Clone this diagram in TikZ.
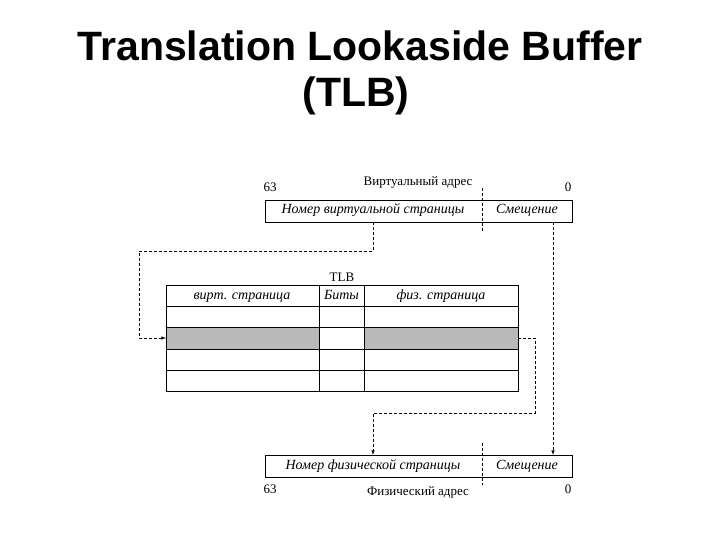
\documentclass[tikz,border=0pt]{standalone}
\usepackage{fontspec}
\setmainfont{Liberation Serif}
\newfontfamily\titlefont{Liberation Sans}
\begin{document}
\begin{tikzpicture}[x=1pt,y=-1pt,
  box/.style={draw,line width=0.8pt},
  dl/.style={dashed,line width=0.6pt,dash pattern=on 3pt off 2pt},
  arr/.style={dl,-latex},
  lab/.style={font=\fontsize{13}{13}\selectfont,text height=8pt,text depth=2pt,inner sep=0pt},
  itl/.style={font=\fontsize{14}{14}\selectfont\itshape,text height=9pt,text depth=3pt,inner sep=0pt}]
\useasboundingbox (0,0) rectangle (720,540);
\node[font=\titlefont\bfseries\fontsize{41}{41}\selectfont] (t1) at (360,46) {Translation Lookaside Buffer};
\node[font=\titlefont\bfseries\fontsize{41}{41}\selectfont] (t2) at (356,96) {(TLB)};
% virtual address
\draw[box] (265,200) rectangle (572,222);
\draw[dl] (482,188) -- (482,232);
\node[itl] (vpn) at (373,211) {Номер виртуальной страницы};
\node[itl] (voff) at (527,211) {Смещение};
\node[lab] (v63) at (270,189) {63};
\node[lab] (v0) at (568,189) {0};
\node[lab] (vlab) at (418,183) {Виртуальный адрес};
% TLB
\fill[gray!55] (166,327.7) rectangle (319,349);
\fill[gray!55] (364,327.7) rectangle (518,349);
\draw[box] (166,285) rectangle (518,391);
\foreach \y in {306.5,327.7,349,370} \draw[line width=0.7pt] (166,\y) -- (518,\y);
\draw[line width=0.7pt] (319,285) -- (319,391) (364,285) -- (364,391);
\node[lab] (tlb) at (342,278) {TLB};
\node[itl] (c1) at (242,296) {вирт. страница};
\node[itl] (c2) at (341.5,296) {Биты};
\node[itl] (c3) at (441,296) {физ. страница};
% physical address
\draw[box] (265,455) rectangle (572,477);
\draw[dl] (482,443) -- (482,485);
\node[itl] (ppn) at (373,466) {Номер физической страницы};
\node[itl] (poff) at (527,466) {Смещение};
\node[lab] (p63) at (270,490) {63};
\node[lab] (p0) at (568,490) {0};
\node[lab] (plab) at (418,492) {Физический адрес};
% connectors
\coordinate (a) at (373,222);
\coordinate (b) at (166,338);
\draw[arr] (a) -- (373,251) -- (139,251) -- (139,338) -- (b);
\coordinate (c) at (518,338);
\coordinate (d) at (373,455);
\draw[arr] (c) -- (535,338) -- (535,413) -- (373,413) -- (d);
\coordinate (e) at (553,222);
\coordinate (f) at (553,455);
\draw[arr] (e) -- (f);
\end{tikzpicture}
\end{document}
